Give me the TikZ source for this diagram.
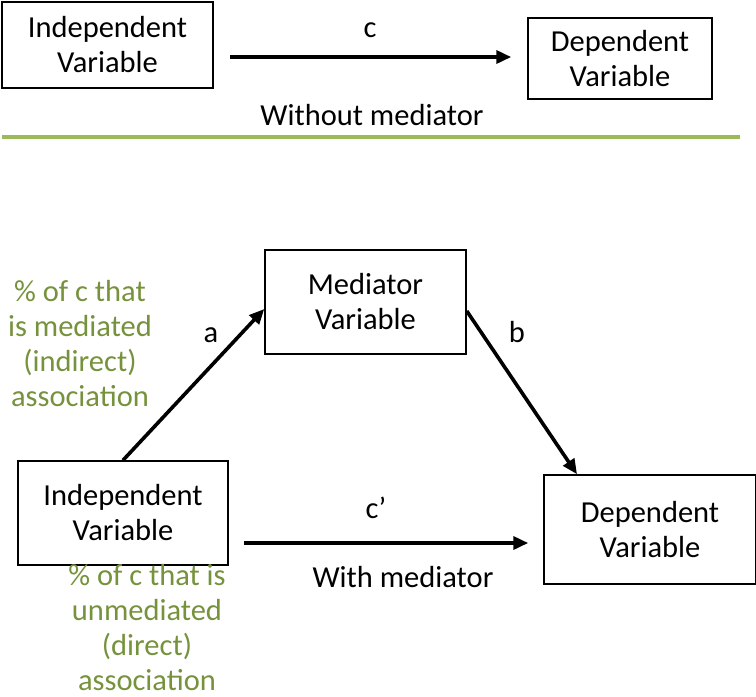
\documentclass[tikz,border=0pt]{standalone}
\usepackage{fontspec}
\setmainfont{Carlito}
\usetikzlibrary{arrows.meta}
\definecolor{linegreen}{RGB}{155,187,89}
\definecolor{textgreen}{RGB}{118,146,60}
\begin{document}
\begin{tikzpicture}[x=1pt,y=-1pt,
  every node/.style={font=\fontsize{30.5}{35}\selectfont, align=center, inner sep=0pt},
  box/.style={draw, line width=1.5pt},
  arr/.style={line width=3.6pt, -{Triangle[length=15pt,width=13pt]}},
  gtext/.style={text=textgreen}]
\path[use as bounding box] (0,0) rectangle (756,697);
% top
\node[box, minimum width=211pt, minimum height=86pt] (IVt) at (107.5,45) {Independent\\Variable};
\node[box, minimum width=184pt, minimum height=81pt] (DVt) at (620,58.5) {Dependent\\Variable};
\draw[arr] ([xshift=16pt,yshift=-12pt]IVt.east) -- ([xshift=-16pt,yshift=-12pt]IVt.east -| DVt.west);
\node (clab) at (370,30) {c};
\node (wo) at (372,115) {Without mediator};
\draw[linegreen, line width=3.2pt] (2,137) -- (740,137);
% bottom
\node[box, minimum width=201pt, minimum height=104pt] (Med) at (365.5,302) {Mediator\\Variable};
\node[box, minimum width=210pt, minimum height=104pt] (IVb) at (123,513) {Independent\\Variable};
\node[box, minimum width=212pt, minimum height=109pt] (DVb) at (650,529.5) {Dependent\\Variable};
\draw[arr] (IVb.north) -- ([yshift=-7pt]Med.west);
\draw[arr] ([yshift=-9pt]Med.east) -- ([xshift=-73pt]DVb.north);
\draw[arr] ([xshift=15pt,yshift=-30pt]IVb.east) -- ([xshift=-15pt,yshift=-30pt]IVb.east -| DVb.west);
\node (alab) at (211,335) {a};
\node (blab) at (517,332) {b};
\node (cplab) at (376,508) {c’};
\node[gtext] (ind) at (80,344) {\% of c that\\is mediated\\(indirect)\\association};
\node[gtext] (dir) at (147,628) {\% of c that is\\unmediated\\(direct)\\association};
\node (wm) at (403,577) {With mediator};
\end{tikzpicture}
\end{document}
